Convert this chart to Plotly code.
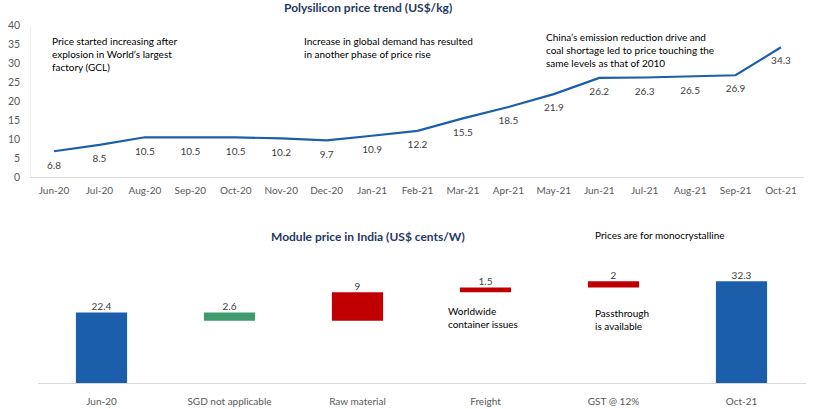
import plotly.graph_objects as go

months = ["Jun-20", "Jul-20", "Aug-20", "Sep-20", "Oct-20", "Nov-20", "Dec-20", "Jan-21",
          "Feb-21", "Mar-21", "Apr-21", "May-21", "Jun-21", "Jul-21", "Aug-21", "Sep-21", "Oct-21"]
poly_price = [6.8, 8.5, 10.5, 10.5, 10.5, 10.2, 9.7, 10.9, 12.2, 15.5, 18.5, 21.9, 26.2, 26.3, 26.5, 26.9, 34.3]

wf_cats = ["Jun-20", "SGD not applicable", "Raw material", "Freight", "GST @ 12%", "Oct-21"]
wf_vals = [22.4, -2.6, 9, 1.5, 2, 32.3]
wf_measure = ["absolute", "relative", "relative", "relative", "relative", "total"]
wf_text = ["22.4", "2.6", "9", "1.5", "2", "32.3"]

W, H = 817, 409
FONT = "Lato"
TICK = "#595959"
LBL = "#404040"
NAVY = "#1F3864"
BLUE = "#1B5FAA"

def px(x):
    return x / W

def py(y):
    return 1 - y / H

# top of each waterfall bar, derived from the data (for the value labels)
tops = []
run = 0.0
for m, v in zip(wf_measure, wf_vals):
    if m == "absolute":
        run = v
        tops.append(v)
    elif m == "total":
        tops.append(run)
    else:
        tops.append(max(run, run + v))
        run += v

fig = go.Figure()

fig.add_trace(go.Scatter(
    x=months, y=poly_price, mode="lines+markers+text",
    line=dict(color=BLUE, width=2.2),
    marker=dict(size=14, color="rgba(0,0,0,0)"),
    text=[f"{v:.1f}" for v in poly_price], textposition="bottom center",
    textfont=dict(family=FONT, size=10, color=LBL),
    xaxis="x", yaxis="y", showlegend=False, cliponaxis=False, hoverinfo="skip",
))

fig.add_trace(go.Waterfall(
    x=wf_cats, y=wf_vals, measure=wf_measure,
    textposition="none",
    increasing=dict(marker=dict(color="#C00000")),
    decreasing=dict(marker=dict(color="#3F9A6E")),
    totals=dict(marker=dict(color=BLUE)),
    connector=dict(visible=False),
    xaxis="x2", yaxis="y2", showlegend=False,
))

fig.add_trace(go.Scatter(
    x=wf_cats, y=tops, mode="text", text=wf_text, textposition="top center",
    textfont=dict(family=FONT, size=10, color=LBL),
    xaxis="x2", yaxis="y2", showlegend=False, cliponaxis=False, hoverinfo="skip",
))

fig.update_layout(
    width=W, height=H,
    margin=dict(l=0, r=0, t=0, b=0),
    paper_bgcolor="white", plot_bgcolor="white",
    font=dict(family=FONT, size=10, color=TICK),
    waterfallgap=0.6,
    xaxis=dict(domain=[px(31.3), px(803.7)], anchor="y", type="category",
               range=[-0.5, len(months) - 0.5], automargin=False,
               showline=True, linecolor="#D9D9D9", linewidth=1, showgrid=False,
               ticks="", ticklabelstandoff=4,
               tickfont=dict(family=FONT, size=10, color=TICK)),
    yaxis=dict(domain=[py(177), py(25.7)], anchor="x", range=[0, 40], dtick=5,
               automargin=False,
               showgrid=False, zeroline=False, showline=True, linecolor="#EEEEEE",
               linewidth=1, ticks="",
               ticklabelstandoff=8,
               tickfont=dict(family=FONT, size=10.5, color=TICK)),
    xaxis2=dict(domain=[px(37.5), px(805.5)], anchor="y2", type="category",
                range=[-0.5, len(wf_cats) - 0.5], automargin=False,
                showline=True, linecolor="#D9D9D9", linewidth=1, showgrid=False,
                ticks="", ticklabelstandoff=9,
                tickfont=dict(family=FONT, size=10, color=TICK)),
    yaxis2=dict(domain=[py(383), py(257)], anchor="x2", range=[0, 40],
                automargin=False,
                visible=False, showgrid=False, zeroline=False),
)

def note(x, y, text, size=10, color="black", bold=False, xanchor="left"):
    if bold:
        text = f"<b>{text}</b>"
    fig.add_annotation(x=px(x), y=py(y), xref="paper", yref="paper", text=text,
                       showarrow=False, xanchor=xanchor, yanchor="middle", align="left",
                       font=dict(family=FONT, size=size, color=color))

note(368, 7, "Polysilicon price trend (US$/kg)", size=12, color=NAVY, bold=True, xanchor="center")
note(50, 54.5, "Price started increasing after<br>explosion in World\u2019s largest<br>factory (GCL)")
note(302, 48, "Increase in global demand has resulted<br>in another phase of price rise")
note(544, 50, "China\u2019s emission reduction drive and<br>coal shortage led to price touching the<br>same levels as that of 2010")

note(368, 236, "Module price in India (US$ cents/W)", size=12, color=NAVY, bold=True, xanchor="center")
note(593, 235, "Prices are for monocrystalline")
note(446, 317, "Worldwide<br>container issues")
note(593, 319, "Passthrough<br>is available")

fig.write_html("out.html")
